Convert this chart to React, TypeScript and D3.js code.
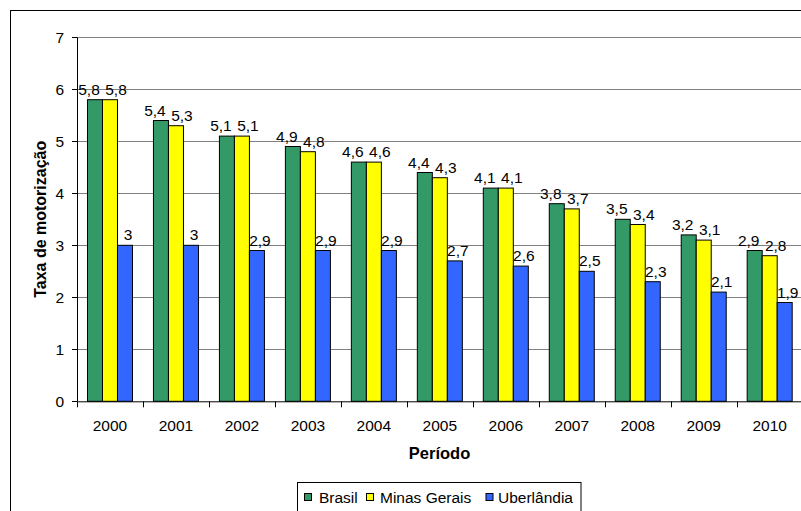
import React from "react";
import * as d3 from "d3";

const years = ["2000","2001","2002","2003","2004","2005","2006","2007","2008","2009","2010"];
const brasil = [5.8,5.4,5.1,4.9,4.6,4.4,4.1,3.8,3.5,3.2,2.9];
const minas = [5.8,5.3,5.1,4.8,4.6,4.3,4.1,3.7,3.4,3.1,2.8];
const uberlandia = [3,3,2.9,2.9,2.9,2.7,2.6,2.5,2.3,2.1,1.9];
const seriesNames = ["Brasil","Minas Gerais","Uberlândia"];
const colors = ["#339966","#FFFF00","#3366FF"];
const yTicks = [0,1,2,3,4,5,6,7];

const fmt = (v: number) => String(v).replace(".", ",");

export default function App() {
  const W = 801, H = 511;
  const left = 77, top = 37.3, bottom = 401.3;
  const catW = 65.97;
  const x = d3.scaleBand<string>().domain(years).range([left, left + catW * years.length]).paddingInner(0).paddingOuter(0);
  const y = d3.scaleLinear().domain([0, 7]).range([bottom, top]);
  const series = [brasil, minas, uberlandia];
  const barW = 15;
  const offset = (catW - barW * 3) / 2;
  const labelDx = [-6, 6, 3];
  const font = "'Liberation Sans', Arial, sans-serif";
  const fs = 15.5;

  return (
    <svg width={W} height={H} style={{ position: "absolute", left: 0, top: 0, display: "block" }} fontFamily={font}>
      <rect x={0} y={0} width={W} height={H} fill="white" />
      <rect x={10.5} y={10.5} width={W + 20} height={H + 20} fill="none" stroke="#000" strokeWidth={1} />
      {yTicks.filter(t => t > 0).map(t => (
        <line key={"g" + t} x1={left} x2={W + 10} y1={Math.round(y(t)) + 0.5} y2={Math.round(y(t)) + 0.5} stroke="#808080" strokeWidth={1} />
      ))}
      {years.map((yr, i) => series.map((s, j) => {
        const bx = (x(yr) as number) + offset + j * barW;
        const by = y(s[i]);
        return (
          <rect key={yr + j} x={bx} y={by} width={barW} height={bottom - by} fill={colors[j]} stroke="#000" strokeWidth={1} />
        );
      }))}
      {years.map((yr, i) => series.map((s, j) => {
        const bx = (x(yr) as number) + offset + j * barW + barW / 2 + labelDx[j];
        const by = y(s[i]);
        return (
          <text key={"l" + yr + j} x={bx} y={by - 5} textAnchor="middle" fontSize={fs} fill="#000">{fmt(s[i])}</text>
        );
      }))}
      <line x1={left + 0.5} x2={left + 0.5} y1={top} y2={bottom} stroke="#000" />
      <line x1={left} x2={W + 10} y1={bottom + 0.5} y2={bottom + 0.5} stroke="#000" />
      {yTicks.map(t => (
        <g key={"t" + t}>
          <line x1={left - 5} x2={left} y1={Math.round(y(t)) + 0.5} y2={Math.round(y(t)) + 0.5} stroke="#000" />
          <text x={64} y={y(t) + 5.4} textAnchor="end" fontSize={fs}>{t}</text>
        </g>
      ))}
      {years.map((yr) => (
        <g key={"x" + yr}>
          <line x1={Math.round(x(yr) as number) + 0.5} x2={Math.round(x(yr) as number) + 0.5} y1={bottom} y2={bottom + 6} stroke="#000" />
          <text x={(x(yr) as number) + catW / 2} y={431} textAnchor="middle" fontSize={fs}>{yr}</text>
        </g>
      ))}
      <text x={439.5} y={459} textAnchor="middle" fontSize={16.5} fontWeight="bold">Período</text>
      <text transform={`translate(45.7, ${(top + bottom) / 2}) rotate(-90)`} textAnchor="middle" fontSize={16} fontWeight="bold">Taxa de motorização</text>
      <rect x={297.5} y={482.5} width={283.5} height={40} fill="white" stroke="#000" />
      {seriesNames.map((n, j) => {
        const lx = [304.5, 366.5, 486][j];
        const tx = [319, 380, 498][j];
        return (
          <g key={"lg" + n}>
            <rect x={lx} y={493.5} width={7} height={7} fill={colors[j]} stroke="#000" />
            <text x={tx} y={503} fontSize={fs}>{n}</text>
          </g>
        );
      })}
    </svg>
  );
}
